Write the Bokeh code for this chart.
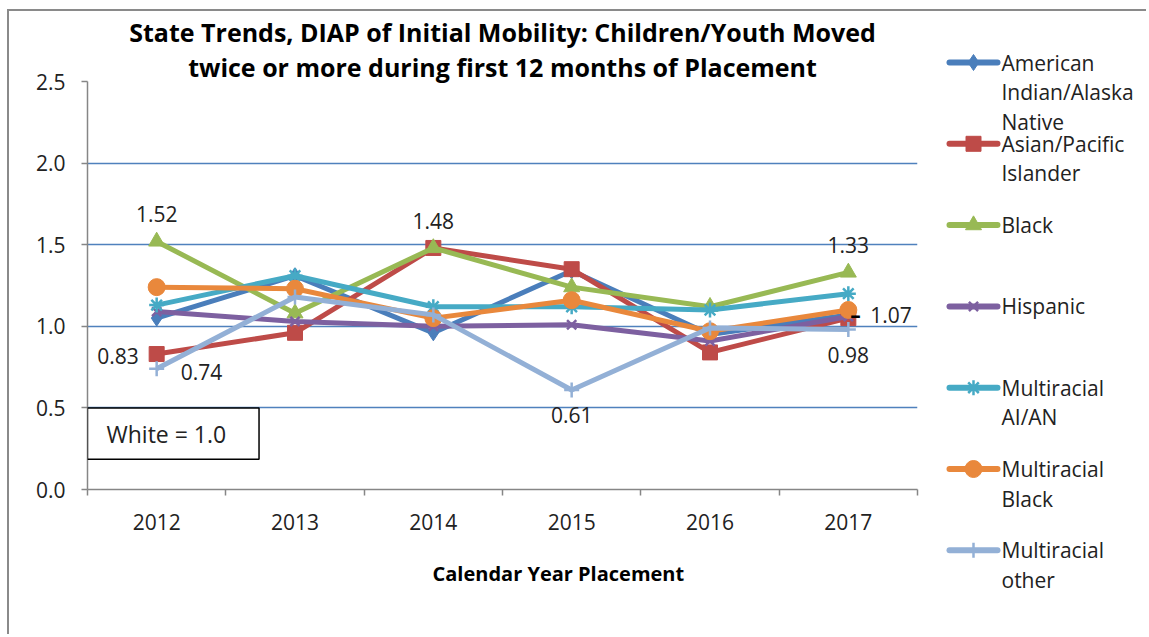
from bokeh.plotting import figure
from bokeh.models import (Range1d, FixedTicker, NumeralTickFormatter, Title,
                          BoxAnnotation, Label, ColumnDataSource)
from bokeh.core.properties import value
from bokeh.embed import file_html
from bokeh.resources import INLINE

# ---------------- data ----------------
years = [2012, 2013, 2014, 2015, 2016, 2017]
series_names = ["American Indian/Alaska Native", "Asian/Pacific Islander", "Black",
                "Hispanic", "Multiracial AI/AN", "Multiracial Black", "Multiracial other"]
legend_labels = ["American\nIndian/Alaska\nNative", "Asian/Pacific\nIslander", "Black",
                 "Hispanic", "Multiracial\nAI/AN", "Multiracial\nBlack", "Multiracial\nother"]
ai_an = [1.05, 1.31, 0.96, 1.34, 0.95, 1.07]
asian_pi = [0.83, 0.96, 1.48, 1.35, 0.84, 1.05]
black = [1.52, 1.08, 1.48, 1.24, 1.12, 1.33]
hispanic = [1.09, 1.03, 1.00, 1.01, 0.91, 1.06]
multi_ai_an = [1.13, 1.31, 1.12, 1.12, 1.10, 1.20]
multi_black = [1.24, 1.23, 1.05, 1.16, 0.97, 1.10]
multi_other = [0.74, 1.18, 1.07, 0.61, 0.99, 0.98]
series_values = [ai_an, asian_pi, black, hispanic, multi_ai_an, multi_black, multi_other]
y_ticks = [0.0, 0.5, 1.0, 1.5, 2.0, 2.5]

# data labels: (series index, year, placement)
label_series = [2, 1, 6, 1, 6, 2, 0, 6]
label_years = [2012, 2012, 2012, 2014, 2015, 2017, 2017, 2017]
label_place = ["above", "left", "right_low", "above", "below", "above", "right", "below"]

# ---------------- styles ----------------
colors = ["#4A7EBB", "#BE4B48", "#98B954", "#7D60A0", "#46AAC5", "#E9883C", "#93B0D6"]
markers = ["diamond", "square", "triangle", "x", "asterisk", "circle", "cross"]
msizes = [16, 15, 16, 13, 15, 17, 15]
FONT = "Open Sans"
GRID = "#4F81BD"
AXIS = "#868686"
TXT = "#222222"
BORDER = "2px solid #8a8a8a"


def draw_marker(fig, xs, ys, m, s, c):
    if m in ("x", "asterisk", "cross"):
        return fig.scatter(xs, ys, marker=m, size=s, line_color=c, line_width=2.5)
    return fig.scatter(xs, ys, marker=m, size=s, fill_color=c, line_color=c)


# canvas origin on page after margin + border: (9, 11)
W, H = 1139, 625
p = figure(width=W, height=H, output_backend="svg", toolbar_location=None,
           x_range=Range1d(years[0] - 0.5, years[-1] + 0.5), y_range=Range1d(0, 2.5),
           min_border_left=78, min_border_right=231, min_border_top=67, min_border_bottom=147,
           title=None,
           styles={"margin-left": "7px", "margin-top": "9px",
                   "border-left": BORDER, "border-top": BORDER})
p.outline_line_color = None
p.background_fill_color = "white"
p.border_fill_color = "white"

# axes
p.xaxis.ticker = FixedTicker(ticks=years, minor_ticks=[y - 0.5 for y in years] + [years[-1] + 0.5])
p.xaxis.major_tick_line_color = None
p.xaxis.major_tick_out = 0
p.xaxis.major_tick_in = 0
p.xaxis.minor_tick_line_color = AXIS
p.xaxis.minor_tick_line_width = 1.5
p.xaxis.minor_tick_out = 6
p.xaxis.minor_tick_in = 0
p.xaxis.major_label_standoff = 18
p.yaxis.ticker = FixedTicker(ticks=y_ticks)
p.yaxis.formatter = NumeralTickFormatter(format="0.0")
p.yaxis.major_tick_out = 6
p.yaxis.major_tick_in = 0
p.yaxis.minor_tick_line_color = None
p.yaxis.major_tick_line_color = AXIS
p.yaxis.major_tick_line_width = 1.5
p.yaxis.major_label_standoff = 16
for ax in (p.xaxis, p.yaxis):
    ax.axis_line_color = AXIS
    ax.axis_line_width = 1.5
    ax.major_label_text_font = FONT
    ax.major_label_text_font_size = "21px"
    ax.major_label_text_color = TXT
p.xgrid.grid_line_color = None
p.ygrid.ticker = FixedTicker(ticks=y_ticks)
p.ygrid.grid_line_color = GRID
p.ygrid.grid_line_width = 1.5

# titles
p.add_layout(Title(text="twice or more during first 12 months of Placement", align="center",
                   text_font=FONT, text_font_size="25px", text_font_style="bold",
                   text_color="#000000", standoff=-5), "above")
p.add_layout(Title(text="State Trends, DIAP of Initial Mobility: Children/Youth Moved", align="center",
                   text_font=FONT, text_font_size="25px", text_font_style="bold",
                   text_color="#000000", standoff=3), "above")
p.add_layout(Title(text="Calendar Year Placement", align="left", offset=345,
                   text_font=FONT, text_font_size="20px", text_font_style="bold",
                   text_color="#000000", standoff=50), "below")

# series
for vals, c, m, s in zip(series_values, colors, markers, msizes):
    src = ColumnDataSource(dict(x=years, y=vals))
    p.line("x", "y", source=src, line_color=c, line_width=5, line_join="round")
    draw_marker(p, "x", "y", m, s, c).data_source = src

# data labels
offsets = {"above": (0, -27, "center"), "left": (-18, 2, "right"), "right_low": (24, 3, "left"),
           "below": (0, 25, "center"), "right": (22, 0, "left")}
lx, ly, lt, lxo, lyo, la = [], [], [], [], [], []
for si, yr, pl in zip(label_series, label_years, label_place):
    v = series_values[si][years.index(yr)]
    xo, yo, al = offsets[pl]
    lx.append(yr); ly.append(v); lt.append(f"{v:.2f}")
    lxo.append(xo); lyo.append(yo); la.append(al)
p.text(x="x", y="y", text="t", x_offset="xo", y_offset="yo", text_align="a",
       source=ColumnDataSource(dict(x=lx, y=ly, t=lt, xo=lxo, yo=lyo, a=la)),
       text_baseline="middle", text_font=value(FONT), text_font_size="21px", text_color=TXT)
# leader dash for right-placed label
rx = [lx[i] for i, pl in enumerate(label_place) if pl == "right"]
ry = [ly[i] for i, pl in enumerate(label_place) if pl == "right"]
p.text(x=rx, y=ry, text=["\u2013"], x_offset=2, text_align="left", text_baseline="middle",
       text_font=value(FONT), text_font_size="21px", text_color="#000000", text_font_style="bold")

# "White = 1.0" box
p.add_layout(BoxAnnotation(left=years[0] - 0.5, right=2012.74, bottom=0.185, top=0.5,
                           fill_color="white", fill_alpha=1, line_color="black",
                           line_alpha=1, line_width=1.5))
p.add_layout(Label(x=years[0] - 0.5, y=0.3425, text="White = 1.0", x_offset=19,
                   text_baseline="middle", text_font=FONT, text_font_size="23px",
                   text_color=TXT))

# ---------------- legend (separate figure, page-pixel coordinates) ----------------
LX0, LY0, LW, LH = 938, 11, 210, 625
lg = figure(width=LW, height=LH, output_backend="svg", toolbar_location=None,
            x_range=Range1d(LX0, LX0 + LW), y_range=Range1d(LY0 + LH, LY0),
            min_border=0, title=None,
            styles={"position": "absolute", "left": f"{LX0}px", "top": f"{LY0}px"})
lg.axis.visible = False
lg.grid.visible = False
lg.outline_line_color = None
lg.border_fill_color = "white"
lg.background_fill_color = "white"
first_y, step, line_gap = 62, 81.3, 29.5
line_x0, line_x1, text_x = 949, 997, 1001
tx, ty, tt = [], [], []
for i, (lab, c, m, s) in enumerate(zip(legend_labels, colors, markers, msizes)):
    yc = first_y + i * step
    lg.line([line_x0, line_x1], [yc, yc], line_color=c, line_width=6, line_cap="round")
    draw_marker(lg, [(line_x0 + line_x1) / 2], [yc], m, s, c)
    for j, part in enumerate(lab.split("\n")):
        tx.append(text_x); ty.append(yc + j * line_gap); tt.append(part)
lg.text(x=tx, y=ty, text=tt, text_baseline="middle", text_align="left",
        text_font=value(FONT), text_font_size="21px", text_color=TXT)

open("out.html", "w").write(file_html([p, lg], INLINE))
